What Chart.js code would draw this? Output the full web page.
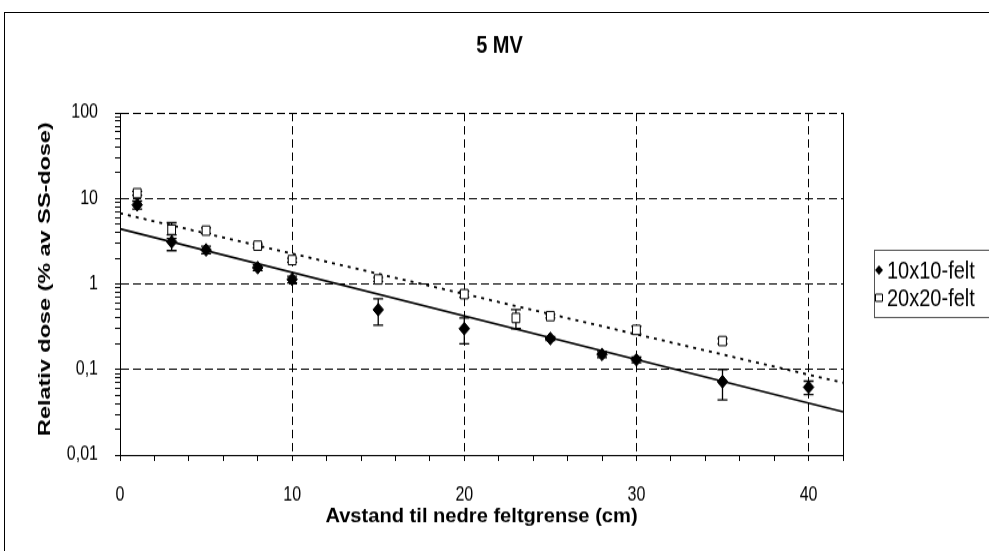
<!DOCTYPE html>
<html>
<head>
<meta charset="utf-8">
<script src="https://cdn.jsdelivr.net/npm/chart.js@4.4.1/dist/chart.umd.min.js"></script>
<style>
  body { margin: 0; background: #fff; }
  #wrap { position: relative; width: 989px; height: 551px; overflow: hidden; }
  #frame { position: absolute; left: 4px; top: 12px; width: 1100px; height: 700px; border: 1px solid #000; }
  /* the source picture is stretched vertically, so the canvas is drawn short and shown tall */
  canvas { position: absolute; left: 0; top: 0; width: 989px !important; height: 551px !important; }
</style>
</head>
<body>
<div id="wrap">
  <div id="frame"></div>
  <canvas id="chart" width="989" height="459"></canvas>
</div>
<script>
// 10x10 field
var dist10 = [1, 3, 5, 8, 10, 15, 20, 25, 28, 30, 35, 40];
var dose10 = [8.4, 3.1, 2.5, 1.55, 1.13, 0.50, 0.30, 0.23, 0.15, 0.13, 0.072, 0.062];
var err10 = [0.9, 0.65, 0.25, 0.12, 0.1, 0.17, 0.1, 0.012, 0.012, 0.01, 0.028, 0.011];

// 20x20 field
var dist20 = [1, 3, 5, 8, 10, 15, 20, 23, 25, 30, 35];
var dose20 = [11.5, 4.3, 4.2, 2.8, 1.9, 1.13, 0.76, 0.40, 0.42, 0.29, 0.215];
var err20 = [0.6, 0.9, 0.3, 0.15, 0.1, 0.06, 0.06, 0.1, 0.02, 0.03, 0.015];

// exponential trend lines (straight on log axis), end points only
var trendX = [0, 42];
var trend10 = [4.4, 0.032];
var trend20 = [6.7, 0.07];

var labels = ["10x10-felt", "20x20-felt"];
var xTitle = "Avstand til nedre feltgrense (cm)";
var yTitle = "Relativ dose (% av SS-dose)";

var FONT = "Liberation Sans";

function isDecade(v) {
  var l = Math.log10(v);
  return Math.abs(l - Math.round(l)) < 1e-9;
}

function pts(xs, ys) {
  return xs.map(function (x, i) { return { x: x, y: ys[i] }; });
}

// axis titles in the source are wide bold text, so draw them stretched along the baseline
function wideText(ctx, text, x, y, rot, k) {
  ctx.save();
  ctx.translate(x, y);
  ctx.rotate(rot);
  ctx.scale(k, 1);
  ctx.font = "bold 16px " + FONT;
  ctx.fillStyle = "#000";
  ctx.textAlign = "center";
  ctx.textBaseline = "middle";
  ctx.fillText(text, 0, 0);
  ctx.restore();
}

const extras = {
  id: "extras",
  beforeDatasetsDraw(chart) {
    // error bars
    const ctx = chart.ctx;
    const x = chart.scales.x, y = chart.scales.y;
    ctx.save();
    ctx.strokeStyle = "#000";
    ctx.lineWidth = 1.3;
    [[dist10, dose10, err10], [dist20, dose20, err20]].forEach(function (s) {
      s[0].forEach(function (d, i) {
        var px = x.getPixelForValue(d);
        var top = y.getPixelForValue(s[1][i] + s[2][i]);
        var bot = y.getPixelForValue(s[1][i] - s[2][i]);
        ctx.beginPath();
        ctx.moveTo(px, top); ctx.lineTo(px, bot);
        ctx.moveTo(px - 5, top); ctx.lineTo(px + 5, top);
        ctx.moveTo(px - 5, bot); ctx.lineTo(px + 5, bot);
        ctx.stroke();
      });
    });
    ctx.restore();
  },
  afterDraw(chart) {
    const a = chart.chartArea, ctx = chart.ctx;
    ctx.save();
    ctx.strokeStyle = "#000";
    ctx.lineWidth = 1;
    // right edge of plot
    ctx.beginPath();
    ctx.moveTo(Math.round(a.right) + 0.5, a.top);
    ctx.lineTo(Math.round(a.right) + 0.5, a.bottom);
    ctx.stroke();

    // axis titles
    wideText(ctx, xTitle, (a.left + a.right) / 2, 431, 0, 1.257);
    wideText(ctx, yTitle, 46, 232.5, -Math.PI / 2, 1.22);

    // legend box
    ctx.strokeStyle = "#555";
    ctx.strokeRect(874.5, 208.5, 200, 56);
    ctx.fillStyle = "#000";
    ctx.strokeStyle = "#000";
    ctx.font = "20px " + FONT;
    ctx.textBaseline = "middle";
    var rows = [225, 248];
    chart.data.datasets.slice(0, 2).forEach(function (ds, i) {
      var cx = 879, cy = rows[i];
      ctx.beginPath();
      if (ds.pointStyle === "rectRot") {
        ctx.moveTo(cx - 4, cy); ctx.lineTo(cx, cy - 4); ctx.lineTo(cx + 4, cy); ctx.lineTo(cx, cy + 4);
        ctx.closePath();
        ctx.fill();
      } else {
        ctx.rect(cx - 3.5, cy - 3, 7, 6);
        ctx.stroke();
      }
      ctx.fillText(ds.label, 887, cy + 1);
    });
    ctx.restore();
  }
};

const chart = new Chart(document.getElementById("chart"), {
  type: "scatter",
  data: {
    datasets: [
      { label: labels[0], data: pts(dist10, dose10), pointStyle: "rectRot", pointRadius: 5.3,
        backgroundColor: "#000", borderColor: "#000", borderWidth: 1, order: 0 },
      { label: labels[1], data: pts(dist20, dose20), pointStyle: "rect", pointRadius: 5.5,
        backgroundColor: "#fff", borderColor: "#000", borderWidth: 1, order: 0 },
      { data: pts(trendX, trend10), showLine: true, pointRadius: 0, borderColor: "#000",
        borderWidth: 1.6, order: 1 },
      { data: pts(trendX, trend20), showLine: true, pointRadius: 0, borderColor: "#000",
        borderWidth: 1.8, borderDash: [3, 5], order: 1 }
    ]
  },
  options: {
    responsive: false,
    animation: false,
    devicePixelRatio: 1,
    layout: { padding: { left: 10, right: 0, top: 0, bottom: 0 } },
    plugins: {
      legend: { display: false },
      tooltip: { enabled: false },
      title: {
        display: true,
        text: "5 MV",
        color: "#000",
        font: { family: FONT, size: 20, weight: "bold" },
        padding: { top: 26, bottom: 44 }
      }
    },
    scales: {
      x: {
        type: "linear",
        min: 0,
        max: 42,
        afterFit: function (s) { s.height = 80; },
        ticks: {
          stepSize: 2,
          autoSkip: false,
          maxRotation: 0,
          padding: 19,
          color: "#000",
          font: { family: FONT, size: 16 },
          callback: function (v) { return v % 10 === 0 ? String(v) : ""; }
        },
        grid: {
          color: function (c) { return c.tick && c.tick.value % 10 === 0 ? "#000" : "rgba(0,0,0,0)"; },
          tickColor: "#000",
          tickLength: 5,
          lineWidth: 1
        },
        border: { color: "#000", width: 1, dash: [7, 4] },
        title: { display: false }
      },
      y: {
        type: "logarithmic",
        min: 0.01,
        max: 100,
        afterFit: function (s) { s.width = 110; },
        afterBuildTicks: function (s) {
          s.ticks = s.ticks.filter(function (t) {
            var m = t.value / Math.pow(10, Math.floor(Math.log10(t.value) + 1e-9));
            return Math.abs(m - Math.round(m)) < 1e-6;
          });
        },
        ticks: {
          autoSkip: false,
          padding: 17,
          color: "#000",
          font: { family: FONT, size: 16 },
          callback: function (v) {
            if (!isDecade(v)) return "";
            return String(Number(v.toPrecision(2))).replace(".", ",");
          }
        },
        grid: {
          color: function (c) { return c.tick && isDecade(c.tick.value) ? "#000" : "rgba(0,0,0,0)"; },
          tickColor: "#000",
          tickLength: 5,
          lineWidth: 1
        },
        border: { color: "#000", width: 1, dash: [8, 4] },
        title: { display: false }
      },
      y2: {
        type: "linear",
        position: "right",
        display: true,
        afterFit: function (s) { s.width = 146; },
        ticks: { display: false },
        grid: { display: false, drawTicks: false },
        border: { display: false }
      }
    }
  },
  plugins: [extras]
});
</script>
</body>
</html>
